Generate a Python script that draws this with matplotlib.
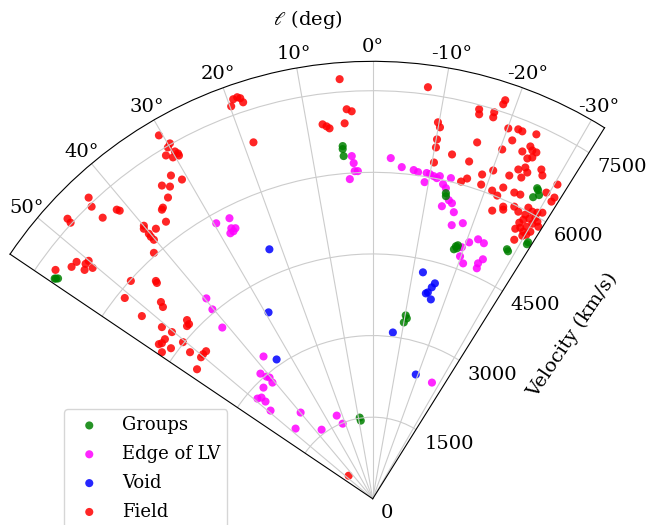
import numpy as np
import matplotlib
matplotlib.use("Agg")
import matplotlib.pyplot as plt

# galactic longitude (deg) and velocity (km/s) per class
groups_l = [55.2, 55.0, 55.3, 4.87, 4.91, 4.85, -13.46, -13.59, -18.23, -18.02, -18.57, -18.57,
            -28.28, -28.66, -31.2, -31.2, -28.18, -28.0, -28.7, -27.9, -10.2, -10.0, -10.7, 9.1, 8.7]
groups_v = [7090, 7060, 7110, 6506, 6451, 6321, 5776, 5722, 4886, 4822, 4915, 4857,
            5208, 5184, 5512, 5470, 6435, 6278, 6363, 6459, 3425, 3291, 3374, 1511, 1453]

edge_l = [29.6, 27.05, 27.6, 26.9, 28.2, 27.5, 39.7, 40.25, 41.3,
          37.5, 41.9, 41.0, 40.4, 40.8, 44.5, 49.0, 47.7, 47.8, 49.2, 39.9, 47.7, 36.5, 23.4, 21.8,
          3.5, 3.25, 3.15, 2.6, 4.1,
          -3.03, -5.0, -7.1, -7.9, -9.3, -9.4, -10.0, -10.7, -11.3, -11.75, -12.6, -13.7, -13.25,
          -14.3, -13.3, -15.0, -15.8, -16.1, -18.1, -20.6, -22.1, -23.5, -19.5, -19.8, -21.0,
          -24.1, -24.7, -24.3, -27.0]
edge_v = [5823, 5790, 5610, 5576, 5537, 5543, 4787, 4560, 4189,
          3297, 3091, 2976, 2926, 2821, 2865, 2807, 2764, 2660, 2481, 2066, 1917, 1580, 1666, 1487,
          6310, 6179, 6031, 6028, 5890,
          6270, 6119, 6088, 6061, 5897, 6068, 6059, 6035, 6010, 6057, 5925, 6066, 5865,
          5663, 5525, 5624, 5474, 5234, 5329, 5035, 5147, 5122, 4904, 4736, 4634,
          4740, 4845, 4648, 2397]

void_l = [22.5, 29.2, 34.6, -12.5, -16.1, -15.6, -14.95, -14.5, -16.25, -6.9, -19.1]
void_v = [4963, 3925, 3111, 4263, 4121, 4035, 3926, 3899, 3817, 3079, 2417]

field_l = [19.83, 19.25, 18.65, 18.3, 18.1, 18.5, 30.47, 29.71, 30.24, 31.06, 29.66, 29.42, 29.44,
           30.33, 31.97, 30.86, 33.94, 33.0, 34.2, 35.78, 36.1, 36.73, 39.97, 40.29, 40.19, 40.26,
           40.2, 38.76, 41.66, 43.33, 43.9, 47.46, 47.58, 43.85, 41.52, 41.29, 54.19, 52.4, 51.34,
           50.71, 50.05, 51.54, 50.5, 47.99, 44.87, 45.0, 51.0, 47.11, 47.57, 51.64, 50.84, 50.3,
           46.1, 46.44, 47.08, 50.46, 52.47, 53.57, 54.13, 53.27, 55.19, 51.26, 48.47, 49.56, 50.5,
           53.6, 46.2,
           4.51, 3.83, 3.11, 4.28, 7.63, 7.07, 6.65,
           -7.64, -9.83, -10.26, -10.14, -10.2, -12.97, -10.32, -15.95, -16.42, -15.56, -16.33,
           -15.28, -15.47, -17.45, -17.53, -18.39, -18.3, -20.1, -21.5, -22.15, -24.18, -21.27,
           -20.34, -23.3, -24.1, -24.62, -25.29, -24.43, -25.06, -23.85, -24.73, -25.35, -27.12,
           -27.69, -20.15, -18.64, -22.9, -24.82, -19.04, -22.75, -21.18, -22.32, -25.88, -29.56,
           -30.45, -31.1, -31.02, -24.07, -24.29, -22.52, -25.85, -28.13, -29.07, -29.92, -30.67,
           -28.24, -30.05, -29.2, -28.35, -27.96, -30.13, -30.72, -29.45, -28.56, -27.83, -29.42,
           -30.55, -30.19, -28.65, -29.63, -31.33, -26.89, -24.81]
field_v = [7668, 7778, 7789, 7754, 7666, 6908, 7749, 7520, 7474, 7366, 7346, 7287, 7245,
           7269, 7004, 6835, 6939, 6842, 6694, 6596, 6576, 6354, 6548, 6506, 6376, 6310,
           6232, 6365, 6050, 7609, 7451, 7613, 7522, 7164, 7097, 7047, 7189, 6986, 6970,
           6818, 6811, 6763, 6671, 5983, 5649, 5610, 5864, 5313, 5224, 5411, 4997, 4796,
           4737, 4659, 4661, 4522, 4816, 4816, 4850, 4627, 4719, 4305, 4091, 4097, 4089,
           4012, 613,
           7736, 7175, 7132, 6920, 6943, 6897, 6854,
           7632, 7022, 6938, 6710, 6561, 6494, 6282, 6447, 6136, 6052, 6825,
           7421, 7332, 7446, 7352, 7719, 7637, 7249, 7298, 7291, 7342, 7068,
           6847, 6950, 7094, 7042, 7040, 6870, 6925, 6617, 6703, 6635, 6799,
           6710, 6427, 6290, 6449, 6505, 6109, 6203, 6075, 6024, 6214, 6469,
           6699, 6465, 6373, 5880, 5830, 5733, 5966, 6067, 6037, 6067, 6113,
           5927, 5969, 5898, 5828, 5745, 5845, 5924, 5742, 5672, 5612, 5634,
           5699, 5614, 5425, 5561, 5854, 5916, 6200]

plt.rcParams['font.family'] = 'DejaVu Serif'
plt.rcParams['mathtext.fontset'] = 'dejavuserif'

fig = plt.figure(figsize=(6.51, 5.25), dpi=100)
# the wedge only fills part of the axes box, so the box is oversized
ax = fig.add_axes([-0.1481, -0.0863, 1.2403, 1.1324], projection='polar')
ax.set_theta_zero_location('N')
ax.set_thetamin(-32)
ax.set_thetamax(56)
ax.set_rlim(0, 8040)
ax.set_rticks([0, 1500, 3000, 4500, 6000, 7500])
ax.set_thetagrids(range(-30, 51, 10))
ax.tick_params(labelsize=14)
ax.tick_params(axis='x', pad=0)
ax.grid(color='#cccccc', lw=0.8)

kw = dict(s=34, alpha=0.85, edgecolors='none')
f = ax.scatter(np.radians(field_l), field_v, c='red', label='Field', **kw)
vd = ax.scatter(np.radians(void_l), void_v, c='blue', label='Void', **kw)
e = ax.scatter(np.radians(edge_l), edge_v, c='magenta', label='Edge of LV', **kw)
g = ax.scatter(np.radians(groups_l), groups_v, c='green', label='Groups', **kw)

fig.text(0.473, 0.962, r'$\ell$ (deg)', ha='center', va='center', fontsize=14)
fig.text(0.879, 0.362, 'Velocity (km/s)', rotation=56, ha='center', va='center', fontsize=14)

fig.legend(handles=[g, e, vd, f], loc='upper left', bbox_to_anchor=(0.0983, 0.221),
           borderaxespad=0, fontsize=13, labelspacing=0.6)

fig.savefig('out.png', dpi=100)
